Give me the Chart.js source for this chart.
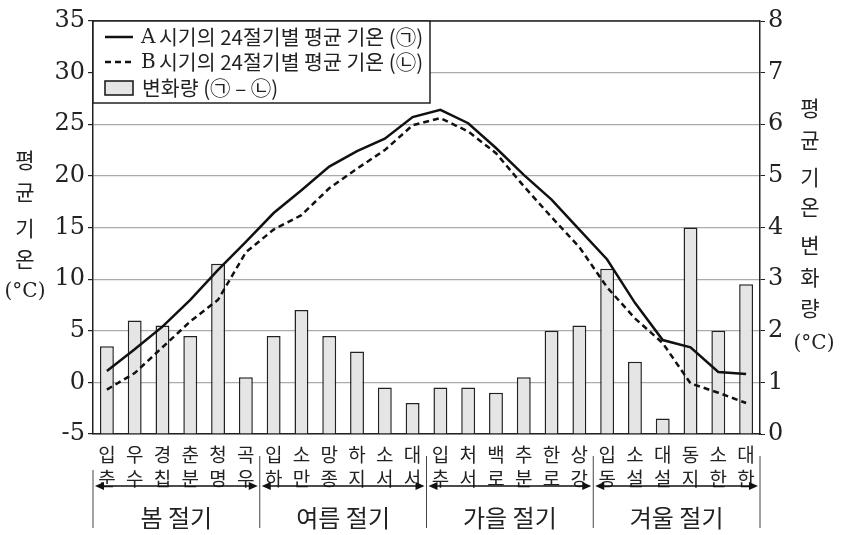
<!DOCTYPE html>
<html>
<head>
<meta charset="utf-8">
<script src="https://cdn.jsdelivr.net/npm/chart.js@4.4.1/dist/chart.umd.min.js"></script>
<style>
    html, body { margin: 0; padding: 0; background: #fff; }
</style>
</head>
<body>
<canvas id="chart" width="846" height="535"></canvas>
<script>
    // 24절기 labels (two lines each)
    const terms = [
        ['입', '춘'], ['우', '수'], ['경', '칩'], ['춘', '분'], ['청', '명'], ['곡', '우'],
        ['입', '하'], ['소', '만'], ['망', '종'], ['하', '지'], ['소', '서'], ['대', '서'],
        ['입', '추'], ['처', '서'], ['백', '로'], ['추', '분'], ['한', '로'], ['상', '강'],
        ['입', '동'], ['소', '설'], ['대', '설'], ['동', '지'], ['소', '한'], ['대', '한']
    ];
    const seasons = ['봄 절기', '여름 절기', '가을 절기', '겨울 절기'];

    // A 시기 평균 기온 (㉠), B 시기 평균 기온 (㉡), 변화량 (㉠ - ㉡)
    const tempA = [1.1, 3.2, 5.4, 8.0, 10.9, 13.6, 16.4, 18.6, 20.9, 22.4, 23.6, 25.7,
        26.4, 25.1, 22.7, 20.1, 17.7, 14.8, 11.9, 7.7, 4.1, 3.4, 1.0, 0.8];
    const tempB = [-0.7, 0.9, 3.4, 5.9, 8.0, 12.6, 14.8, 16.2, 18.8, 20.7, 22.5, 24.9,
        25.6, 24.3, 22.2, 19.0, 16.0, 13.1, 9.2, 6.2, 3.8, -0.1, -1.0, -2.0];
    const change = [1.7, 2.2, 2.1, 1.9, 3.3, 1.1, 1.9, 2.4, 1.9, 1.6, 0.9, 0.6,
        0.9, 0.9, 0.8, 1.1, 2.0, 2.1, 3.2, 1.4, 0.3, 4.0, 2.0, 2.9];

    const legendLabels = ['시기의 24절기별 평균 기온 (㉠)', '시기의 24절기별 평균 기온 (㉡)', '변화량 (㉠ – ㉡)'];
    const leftTitle = ['평', '균', '기', '온', '(°C)'];
    const rightTitle = ['평', '균', '기', '온', '변', '화', '량', '(°C)'];

    const KR = "'Noto Sans CJK KR', sans-serif";
    const SERIF = "'DejaVu Serif', serif";

    // draws legend, axis titles and season brackets
    const decorPlugin = {
        id: 'decor',
        afterDraw(chart) {
            const ctx = chart.ctx;
            const area = chart.chartArea;
            ctx.save();

            // top border of plot
            ctx.strokeStyle = '#222';
            ctx.lineWidth = 1.5;
            ctx.beginPath();
            ctx.moveTo(area.left, area.top);
            ctx.lineTo(area.right, area.top);
            ctx.stroke();

            // legend box
            ctx.fillStyle = '#fff';
            ctx.fillRect(area.left, area.top, 337, 82);
            ctx.strokeRect(area.left, area.top, 337, 82);
            const rows = [37, 62, 88];
            ctx.lineWidth = 2.5;
            ctx.strokeStyle = '#111';
            ctx.beginPath();
            ctx.moveTo(105, rows[0]); ctx.lineTo(133, rows[0]);
            ctx.stroke();
            ctx.setLineDash([6, 4]);
            ctx.beginPath();
            ctx.moveTo(105, rows[1]); ctx.lineTo(133, rows[1]);
            ctx.stroke();
            ctx.setLineDash([]);
            ctx.lineWidth = 1.5;
            ctx.fillStyle = '#e5e5e5';
            ctx.fillRect(105, rows[2] - 7, 28, 14);
            ctx.strokeRect(105, rows[2] - 7, 28, 14);
            ctx.fillStyle = '#222';
            ctx.textBaseline = 'middle';
            ctx.textAlign = 'left';
            ['A', 'B'].forEach((p, i) => {
                ctx.font = '20px ' + SERIF;
                ctx.fillText(p, 141, rows[i] + 1);
                ctx.font = '20.5px ' + KR;
                ctx.fillText(legendLabels[i], 159, rows[i]);
            });
            ctx.fillText(legendLabels[2], 142, rows[2]);

            // axis titles
            ctx.textAlign = 'center';
            const leftY = [160, 192, 228, 259, 292];
            leftTitle.forEach((t, i) => {
                ctx.font = (t.length > 1 ? '20px ' + SERIF : '21px ' + KR);
                ctx.fillText(t, 25, leftY[i]);
            });
            const rightY = [108, 140, 177, 207, 245, 277, 308, 344];
            rightTitle.forEach((t, i) => {
                ctx.font = (t.length > 1 ? '20px ' + SERIF : '21px ' + KR);
                ctx.fillText(t, t.length > 1 ? 814 : 810, rightY[i]);
            });

            // season brackets
            const step = (area.right - area.left) / seasons.length;
            ctx.strokeStyle = '#444';
            ctx.lineWidth = 1;
            for (let k = 0; k <= seasons.length; k++) {
                const x = area.left + k * step;
                ctx.beginPath();
                ctx.moveTo(x, k == 0 ? 470 : 456);
                ctx.lineTo(x, 528);
                ctx.stroke();
            }
            ctx.strokeStyle = '#111';
            ctx.fillStyle = '#111';
            ctx.lineWidth = 1.5;
            const ay = 486;
            seasons.forEach((s, k) => {
                const x1 = area.left + k * step + 2;
                const x2 = area.left + (k + 1) * step - 2;
                ctx.beginPath();
                ctx.moveTo(x1 + 4, ay); ctx.lineTo(x2 - 4, ay);
                ctx.stroke();
                ctx.beginPath();
                ctx.moveTo(x1, ay); ctx.lineTo(x1 + 9, ay - 4); ctx.lineTo(x1 + 9, ay + 4);
                ctx.closePath(); ctx.fill();
                ctx.beginPath();
                ctx.moveTo(x2, ay); ctx.lineTo(x2 - 9, ay - 4); ctx.lineTo(x2 - 9, ay + 4);
                ctx.closePath(); ctx.fill();
                ctx.fillStyle = '#222';
                ctx.font = '24px ' + KR;
                ctx.fillText(s, (x1 + x2) / 2, 518);
                ctx.fillStyle = '#111';
            });
            ctx.restore();
        }
    };

    var ctx = document.getElementById('chart').getContext('2d');
    var chart = new Chart(ctx, {
        type: 'bar',
        data: {
            labels: terms,
            datasets: [{
                type: 'line',
                data: tempA,
                yAxisID: 'y',
                borderColor: '#111',
                borderWidth: 2.5,
                pointRadius: 0,
                tension: 0,
                order: 1
            }, {
                type: 'line',
                data: tempB,
                yAxisID: 'y',
                borderColor: '#111',
                borderWidth: 2.5,
                borderDash: [6, 4],
                pointRadius: 0,
                tension: 0,
                order: 1
            }, {
                type: 'bar',
                data: change,
                yAxisID: 'y2',
                backgroundColor: '#e5e5e5',
                borderColor: '#222',
                borderWidth: 1.5,
                barPercentage: 0.5,
                categoryPercentage: 1,
                order: 2
            }]
        },
        options: {
            responsive: false,
            animation: false,
            layout: { padding: { top: 21, left: 0, right: 0, bottom: 0 } },
            plugins: {
                legend: { display: false },
                tooltip: { enabled: false }
            },
            scales: {
                x: {
                    grid: { display: false },
                    border: { display: true, color: '#222', width: 1.5 },
                    ticks: {
                        color: '#222',
                        padding: 1,
                        maxRotation: 0,
                        autoSkip: false,
                        font: { family: KR, size: 19, lineHeight: 1.25 }
                    },
                    afterFit: scale => { scale.height = 101; }
                },
                y: {
                    position: 'left',
                    min: -5,
                    max: 35,
                    grid: { color: '#aaa', lineWidth: 1.2, tickLength: 5, tickColor: '#222' },
                    border: { display: true, color: '#222', width: 1.5 },
                    ticks: {
                        stepSize: 5,
                        color: '#222',
                        padding: 3,
                        font: { family: SERIF, size: 24 }
                    },
                    afterFit: scale => { scale.width = 93; }
                },
                y2: {
                    position: 'right',
                    min: 0,
                    max: 8,
                    grid: { drawOnChartArea: false, tickLength: 5, color: '#222' },
                    border: { display: true, color: '#222', width: 1.5 },
                    ticks: {
                        stepSize: 1,
                        color: '#222',
                        padding: 3,
                        font: { family: SERIF, size: 24 }
                    },
                    afterFit: scale => { scale.width = 86; }
                }
            }
        },
        plugins: [decorPlugin]
    });
</script>
</body>
</html>
